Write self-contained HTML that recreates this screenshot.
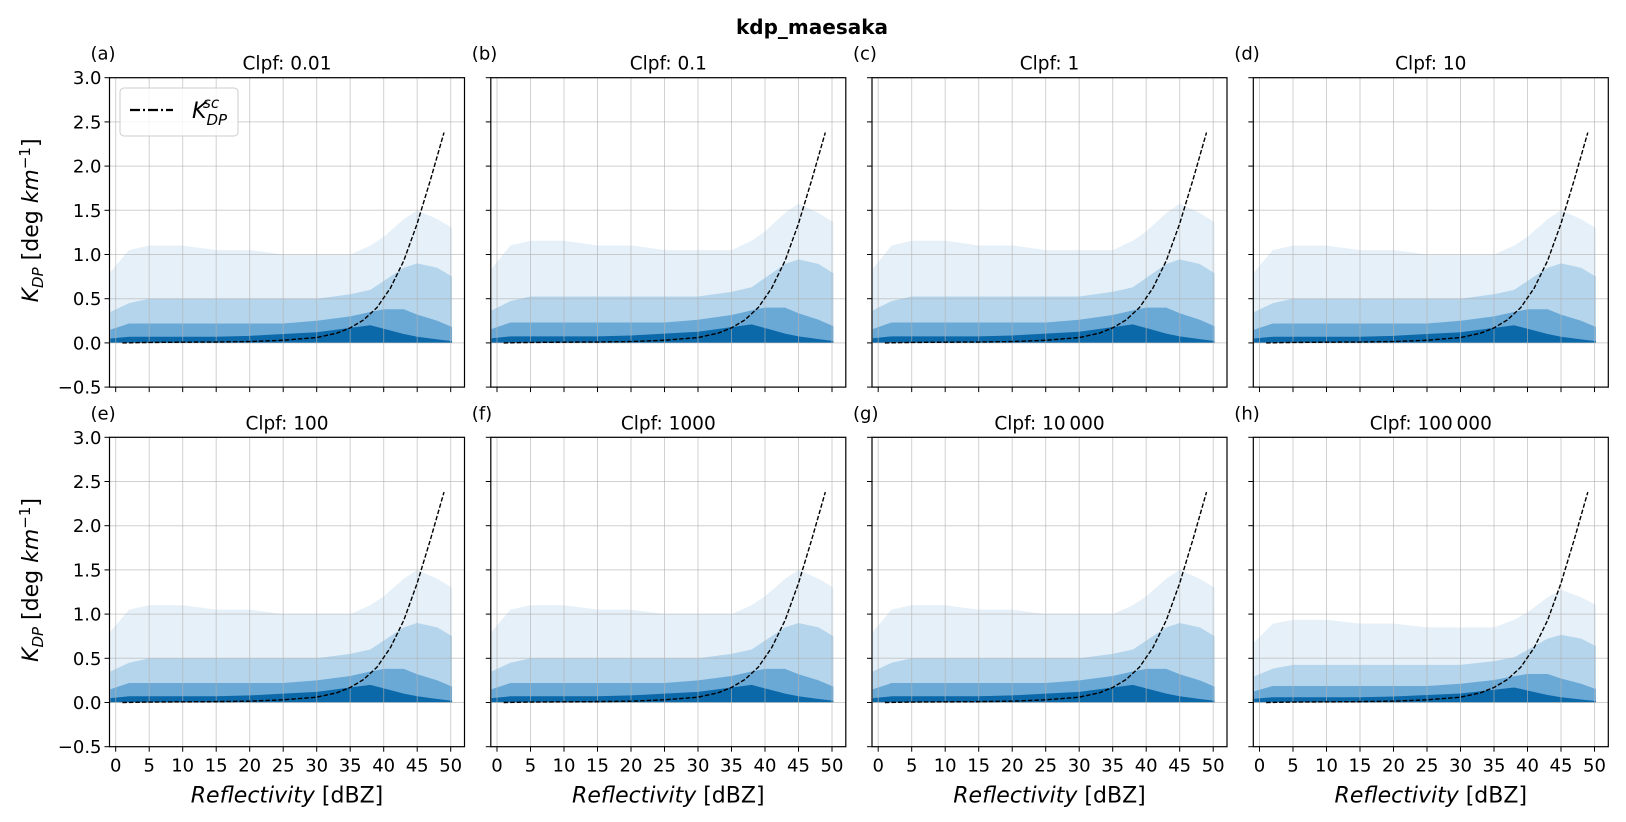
<!DOCTYPE html>
<html><head><meta charset="utf-8"><style>
body{margin:0;background:#fff;}
svg{display:block;font-family:"DejaVu Sans","Liberation Sans",sans-serif;}
</style></head><body>
<svg id="fig" width="1626" height="822" xmlns="http://www.w3.org/2000/svg">
<text x="812" y="34" font-size="20" font-weight="bold" text-anchor="middle">kdp_maesaka</text>
</svg>
<script>
const panelLabels = ["(a)","(b)","(c)","(d)","(e)","(f)","(g)","(h)"];
const panelTitles = ["Clpf: 0.01","Clpf: 0.1","Clpf: 1","Clpf: 10","Clpf: 100","Clpf: 1000","Clpf: 10\u2009000","Clpf: 100\u2009000"];
const panelSpread = [1.0,1.05,1.05,1.0,1.0,1.0,1.0,0.85];
const xTicks = [0,5,10,15,20,25,30,35,40,45,50];
const yTicks = [-0.5,0,0.5,1,1.5,2,2.5,3];
const yTickLabels = ["\u22120.5","0.0","0.5","1.0","1.5","2.0","2.5","3.0"];
// density envelope tops (K_DP) at each reflectivity bin
const binZ = [-0.8,2,5,10,15,20,25,30,35,38,40,43,45,48,50.2];
const sparseTop = [0.8,1.05,1.1,1.1,1.05,1.05,1.0,1.0,1.0,1.1,1.2,1.4,1.5,1.4,1.3];
const mediumTop = [0.35,0.45,0.5,0.5,0.5,0.5,0.5,0.5,0.55,0.6,0.7,0.85,0.9,0.85,0.75];
const denseTop = [0.15,0.22,0.22,0.22,0.22,0.22,0.22,0.25,0.3,0.35,0.38,0.38,0.32,0.25,0.18];
const coreTop = [0.05,0.07,0.07,0.07,0.07,0.08,0.1,0.12,0.17,0.2,0.16,0.1,0.07,0.04,0.02];
// K_DP^sc curve
const curveZ = [1,5,10,15,20,25,30,33,35,37,39,41,43,45,47,49];
const curveK = [0,0.005,0.008,0.01,0.015,0.03,0.06,0.11,0.17,0.26,0.4,0.62,0.93,1.35,1.85,2.38];

const NS="http://www.w3.org/2000/svg";
const svg=document.getElementById('fig');
function mk(tag,attrs,parent){const e=document.createElementNS(NS,tag);for(const k in attrs)e.setAttribute(k,attrs[k]);(parent||svg).appendChild(e);return e;}
const lefts=[109.5,490.8,872,1253.3], tops=[77.7,437.3], W=355, H=309.4;
const xMin=-0.925,xMax=52.06,yMin=-0.5,yMax=3.0;

for(let p=0;p<8;p++){
  const col=p%4,row=Math.floor(p/4);
  const L=lefts[col],T=tops[row];
  const sx=v=>L+(v-xMin)/(xMax-xMin)*W;
  const sy=v=>T+(yMax-v)/(yMax-yMin)*H;
  const g=mk('g',{});
  
  
  const clip=mk('clipPath',{id:'c'+p},g);mk('rect',{x:L,y:T,width:W,height:H},clip);
  const layers=[[sparseTop,'#e6f0f8'],[mediumTop,'#b5d5ec'],[denseTop,'#6aa9d6'],[coreTop,'#0b68a9']];
  const names=['sparse-scatter','medium-scatter','dense-scatter','core-scatter'];
  const s=panelSpread[p];
  layers.forEach((ly,i)=>{
    let d='M'+sx(binZ[0])+','+sy(0);
    binZ.forEach((z,j)=>{d+=' L'+sx(z)+','+sy(ly[0][j]*s);});
    d+=' L'+sx(binZ[binZ.length-1])+','+sy(0)+' Z';
    const e=mk('path',{d:d,fill:ly[1],'clip-path':'url(#c'+p+')'},g);
    
    
  });
  xTicks.forEach(v=>{const e=mk('line',{x1:sx(v),x2:sx(v),y1:T,y2:T+H,stroke:'#b0b0b0','stroke-opacity':0.6,'stroke-width':1},g);
    });
  yTicks.forEach(v=>{const e=mk('line',{x1:L,x2:L+W,y1:sy(v),y2:sy(v),stroke:'#b0b0b0','stroke-opacity':0.6,'stroke-width':1},g);
    });
  const pts=curveZ.map((z,i)=>sx(z)+','+sy(curveK[i])).join(' ');
  const c=mk('polyline',{points:pts,fill:'none',stroke:'#000','stroke-width':1.4,'stroke-dasharray':'4.5,2'},g);
  
  const fr=mk('rect',{x:L,y:T,width:W,height:H,fill:'none',stroke:'#000','stroke-width':1.2},g);
  
  xTicks.forEach(v=>{mk('line',{x1:sx(v),x2:sx(v),y1:T+H,y2:T+H+5,stroke:'#000'},g);
    if(row===1){const t=mk('text',{x:sx(v),y:T+H+25,'font-size':18,'text-anchor':'middle'},g);t.textContent=v;
      }});
  yTicks.forEach((v,i)=>{mk('line',{x1:L-5,x2:L,y1:sy(v),y2:sy(v),stroke:'#000'},g);
    if(col===0){const t=mk('text',{x:L-8,y:sy(v)+6.5,'font-size':18,'text-anchor':'end'},g);t.textContent=yTickLabels[i];
      }});
  const tt=mk('text',{x:L+W/2,y:T-8,'font-size':18.5,'text-anchor':'middle'},g);tt.textContent=panelTitles[p];
  
  const pl=mk('text',{x:L-19,y:T-18,'font-size':18},g);pl.textContent=panelLabels[p];
  
  if(row===1){
    const xl=mk('text',{x:L+W/2,y:T+H+56,'font-size':22,'text-anchor':'middle'},g);
    xl.innerHTML='<tspan font-style="italic">Reflectivity</tspan> [dBZ]';
    
  }
  if(col===0){
    const cy=T+H/2-12;
    const yl=mk('text',{x:0,y:0,'font-size':22,'text-anchor':'middle',transform:'translate(38,'+cy+') rotate(-90)'},g);
    yl.innerHTML='<tspan font-style="italic">K</tspan><tspan font-style="italic" font-size="15" dy="5">DP</tspan><tspan dy="-5"> [deg </tspan><tspan font-style="italic">km</tspan><tspan font-size="15" dy="-8">\u22121</tspan><tspan dy="8">]</tspan>';
    
  }
  if(p===0){
    const lg=mk('g',{},g);
    mk('rect',{x:120,y:88,width:118,height:48,rx:4,fill:'#fff','fill-opacity':0.8,stroke:'#ccc'},lg);
    mk('line',{x1:130,x2:173,y1:110,y2:110,stroke:'#000','stroke-width':2.2,'stroke-dasharray':'10,3,2,3'},lg);
    const lt=mk('text',{x:192,y:118,'font-size':22,'font-style':'italic'},lg);
    lt.innerHTML='K<tspan font-size="15" dy="7">DP</tspan><tspan font-size="15" dx="-24" dy="-17">sc</tspan>';
    
  }
}
</script>
</body></html>
